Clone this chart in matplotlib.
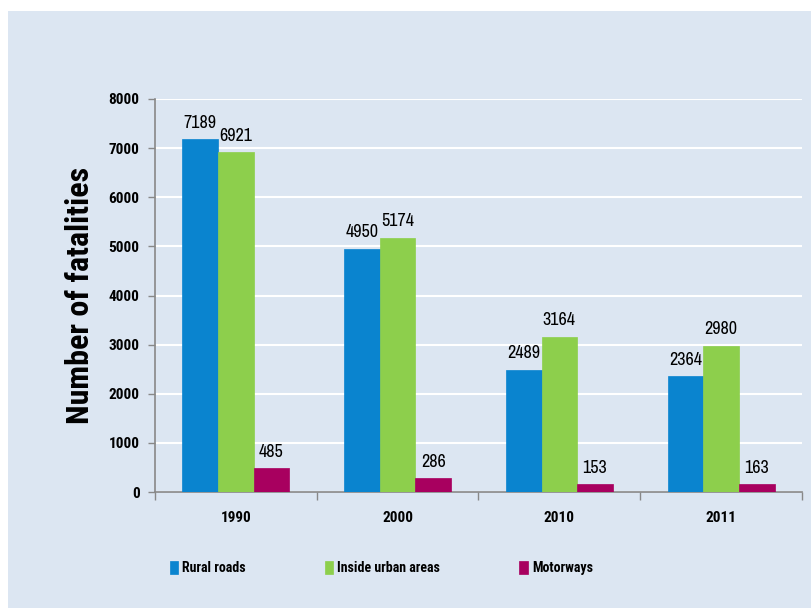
import matplotlib
matplotlib.use("Agg")
import matplotlib.pyplot as plt
import numpy as np
from matplotlib import font_manager
from matplotlib.patches import Rectangle

# Data
years = ["1990", "2000", "2010", "2011"]
rural = [7189, 4950, 2489, 2364]
urban = [6921, 5174, 3164, 2980]
motorways = [485, 286, 153, 163]
series_names = ["Rural roads", "Inside urban areas", "Motorways"]
colors = ["#0a84cf", "#8dcf4c", "#a8005f"]


def first_font(cands, default="Liberation Sans"):
    names = {f.name for f in font_manager.fontManager.ttflist}
    for c in cands:
        if c in names:
            return c
    return default


# narrow fonts, like Arial Narrow in the original
narrow = first_font(["Liberation Sans Narrow", "Arial Narrow", "Archivo Narrow"])
narrow_bold = first_font(["Liberation Sans Narrow", "Arial Narrow", "Roboto Condensed",
                          "Fira Sans Condensed", "Asap Condensed"])

fig = plt.figure(figsize=(8.12, 6.08), dpi=100, facecolor="white")
fig.patches.append(Rectangle((8 / 812, 0), 1, (608 - 11) / 608, transform=fig.transFigure,
                             facecolor="#dce6f2", edgecolor="none", zorder=-10))

ax = fig.add_axes([155 / 812, 116 / 608, (802 - 155) / 812, (492 - 99) / 608])
ax.set_facecolor("none")

x = np.arange(len(years))
w = 0.22
for i, (vals, name, col) in enumerate(zip([rural, urban, motorways], series_names, colors)):
    bars = ax.bar(x + (i - 1) * w, vals, w, color=col, label=name, zorder=3,
                  edgecolor=col, linewidth=0.5)
    for b, v in zip(bars, vals):
        ax.annotate(str(v), (b.get_x() + b.get_width() / 2, v), xytext=(0, 6),
                    textcoords="offset points", ha="center", va="bottom",
                    fontsize=13, family=narrow, zorder=4)

ax.set_ylim(0, 8000)
ax.set_xlim(-0.5, len(years) - 0.5)
ax.set_yticks(np.arange(0, 8001, 1000))
ax.yaxis.grid(True, color="white", linewidth=1.5, zorder=1)
ax.set_axisbelow(True)

ax.set_xticks(x)
ax.set_xticklabels(years)
ax.set_xticks(np.arange(-0.5, len(years)), minor=True)
ax.tick_params(axis="x", which="major", length=0, pad=14)
ax.tick_params(axis="x", which="minor", length=6, color="#888888", width=1)
ax.tick_params(axis="y", length=5, color="#888888", width=1, pad=6)
for lab in ax.get_xticklabels() + ax.get_yticklabels():
    lab.set_fontfamily(narrow_bold)
    lab.set_fontweight("bold")
    lab.set_fontsize(11)

for s in ["top", "right"]:
    ax.spines[s].set_visible(False)
for s in ["left", "bottom"]:
    ax.spines[s].set_color("#888888")
    ax.spines[s].set_linewidth(1.2)

ax.set_ylabel("Number of fatalities", fontsize=23, fontweight="bold", family=narrow_bold,
              labelpad=10)

fig.legend(loc="center left", bbox_to_anchor=(164 / 812, 1 - 568 / 608), ncol=3, frameon=False,
           prop={"family": narrow_bold, "weight": "bold", "size": 10}, handlelength=0.6,
           handleheight=1.1, handletextpad=0.3, columnspacing=5.7, borderaxespad=0)

fig.savefig("out.png", dpi=100)
